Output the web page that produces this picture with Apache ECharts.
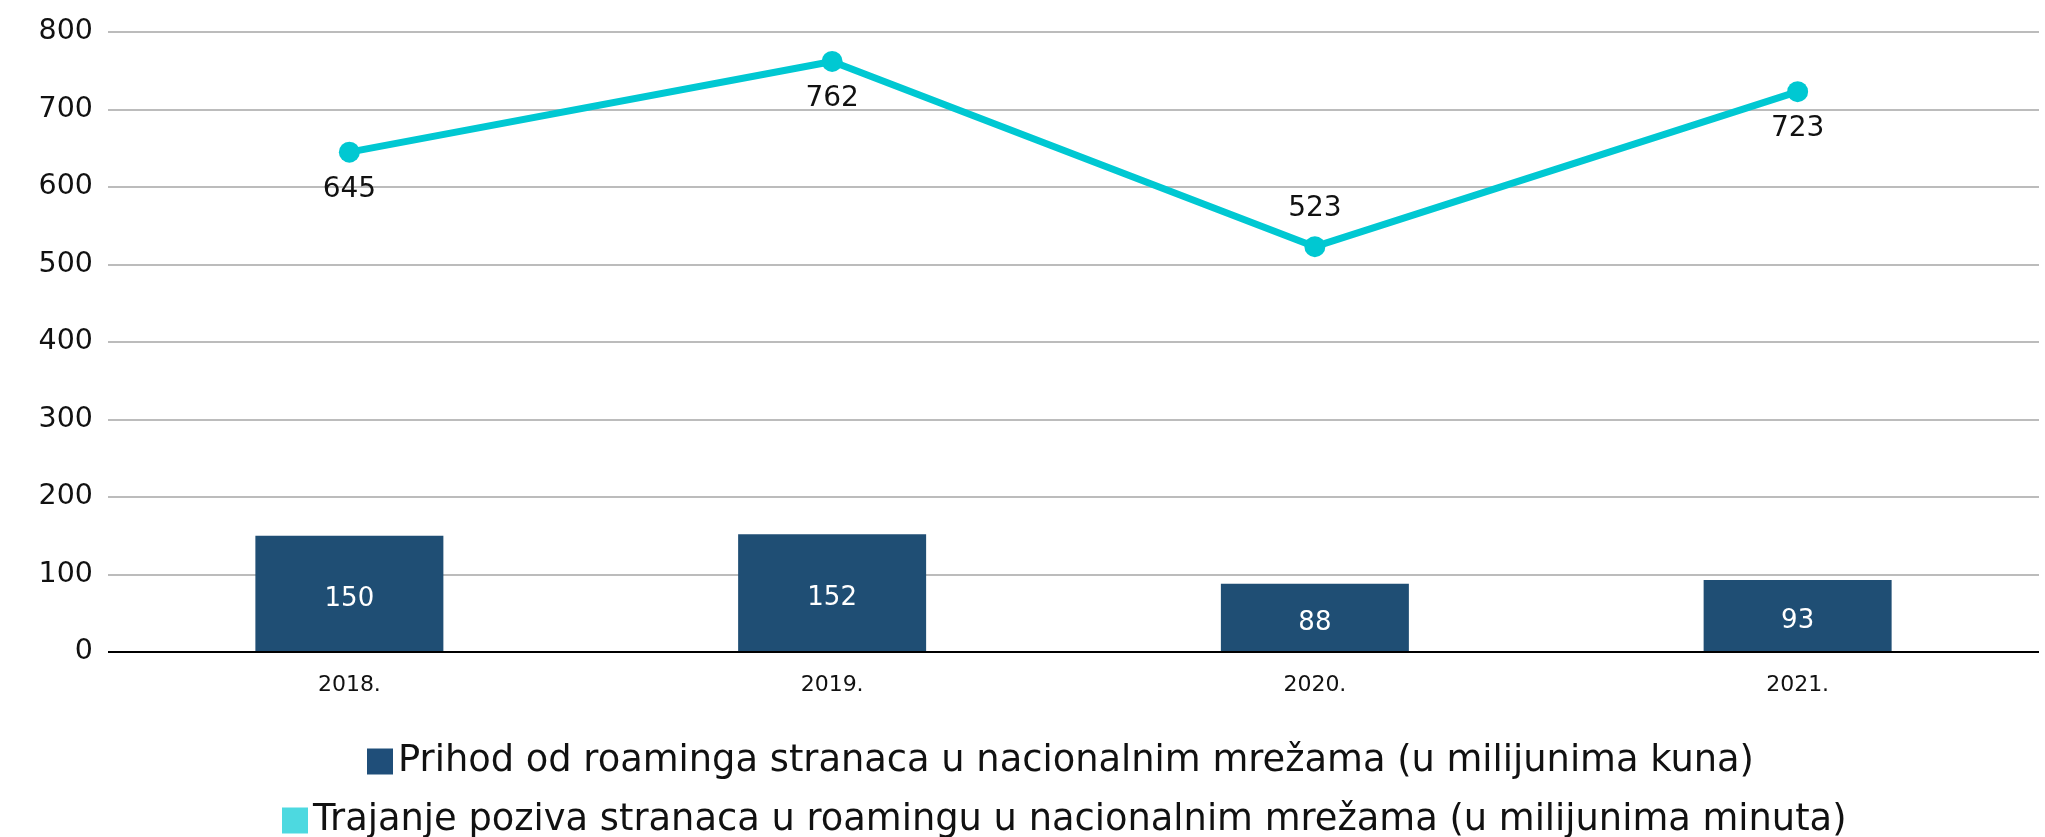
<!DOCTYPE html>
<html>
<head>
<meta charset="utf-8">
<script src="https://cdn.jsdelivr.net/npm/echarts@6/dist/echarts.min.js"></script>
<style>
  html, body { margin: 0; padding: 0; background: #fff; }
  #chart { width: 2045px; height: 837px; }
</style>
</head>
<body>
<div id="chart"></div>
<script>
var years = ['2018.', '2019.', '2020.', '2021.']
var prihod = [150, 152, 88, 93]
var trajanje = [645, 762, 523, 723]
var trajanjeLabelPos = ['bottom', 'bottom', 'top', 'bottom']

var barName = 'Prihod od roaminga stranaca u nacionalnim mrežama (u milijunima kuna)'
var lineName = 'Trajanje poziva stranaca u roamingu u nacionalnim mrežama (u milijunima minuta)'

var font = 'DejaVu Sans'
var myChart = echarts.init(document.getElementById('chart'))

var options = {
    animation: false,
    textStyle: { fontFamily: font },
    grid: { left: 108, right: 6, top: 32, height: 620 },
    legend: [
        {
            data: [{ name: barName, itemStyle: { color: '#1F4E79' } }],
            left: 362, top: 738,
            itemWidth: 26, itemHeight: 26, itemGap: 10,
            icon: 'rect',
            textStyle: { fontSize: 36.8, color: '#111', fontFamily: font }
        },
        {
            data: [{ name: lineName, icon: 'rect', itemStyle: { color: '#4DD9E0' } }],
            left: 277, top: 797,
            itemWidth: 26, itemHeight: 26, itemGap: 10,
            textStyle: { fontSize: 36.8, color: '#111', fontFamily: font }
        }
    ],
    xAxis: {
        type: 'category',
        data: years,
        axisLine: { show: false },
        axisTick: { show: false },
        axisLabel: { fontSize: 22, color: '#111', margin: 22 }
    },
    yAxis: {
        type: 'value',
        min: 0, max: 800, interval: 100,
        axisLine: { show: false },
        axisTick: { show: false },
        axisLabel: { fontSize: 28.5, color: '#111', margin: 15 },
        splitLine: { lineStyle: { color: '#A6A6A6', width: 1.5 } }
    },
    series: [
        {
            name: barName,
            type: 'bar',
            data: prihod,
            barWidth: 188,
            itemStyle: { color: '#1F4E74' },
            label: {
                show: true, position: 'inside', offset: [0, 5],
                color: '#fff', fontSize: 26
            },
            markLine: {
                silent: true, symbol: 'none', label: { show: false },
                lineStyle: { color: '#000', width: 2, type: 'solid' },
                data: [{ yAxis: 0 }]
            }
        },
        {
            name: lineName,
            type: 'line',
            data: trajanje.map(function (v, i) {
                return { value: v, label: { position: trajanjeLabelPos[i] } }
            }),
            symbol: 'circle',
            symbolSize: 21,
            lineStyle: { color: '#00C8D2', width: 7 },
            itemStyle: { color: '#00C8D2' },
            label: { show: true, color: '#111', fontSize: 28, distance: 13 },
            z: 3
        }
    ]
}
myChart.setOption(options)
</script>
</body>
</html>
